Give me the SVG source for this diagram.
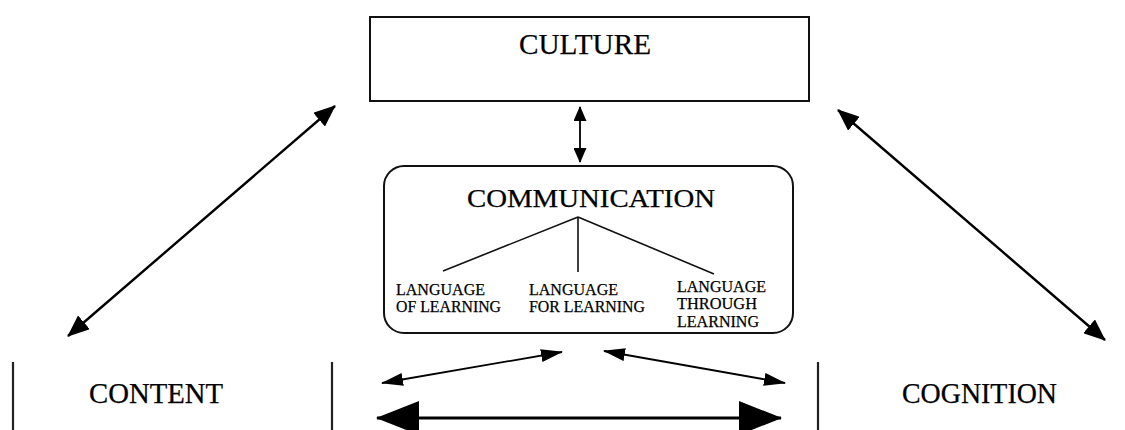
<svg xmlns="http://www.w3.org/2000/svg" width="1125" height="430" viewBox="0 0 1125 430">
  <style>
    .box { fill: #fff; stroke: #111; stroke-width: 2; }
    .side { fill: none; stroke: #222; stroke-width: 2.2; }
    .lbl { font-family: "Liberation Serif", "Times New Roman", serif; fill: #000; stroke: #000; stroke-width: 0.25; }
    .big { font-size: 29px; }
    .sub { font-size: 16.5px; }
    .tree { stroke: #111; stroke-width: 1.6; fill: none; }
    .link { stroke: #000; stroke-width: 2.4; fill: none; }
    .thin { stroke: #000; stroke-width: 1.8; fill: none; }
    .heavy { stroke: #000; stroke-width: 3.2; fill: none; }
  </style>
  <defs>
    <marker id="headM" markerUnits="userSpaceOnUse" viewBox="0 0 22 18" refX="21" refY="9" markerWidth="22" markerHeight="18" orient="auto-start-reverse">
      <path d="M0,0 L22,9 L0,18 Z" fill="#000"/>
    </marker>
    <marker id="headS" markerUnits="userSpaceOnUse" viewBox="0 0 22 13" refX="21" refY="6.5" markerWidth="22" markerHeight="13" orient="auto-start-reverse">
      <path d="M0,0 L22,6.5 L0,13 Z" fill="#000"/>
    </marker>
    <marker id="headV" markerUnits="userSpaceOnUse" viewBox="0 0 15 13" refX="14" refY="6.5" markerWidth="15" markerHeight="13" orient="auto-start-reverse">
      <path d="M0,0 L15,6.5 L0,13 Z" fill="#000"/>
    </marker>
    <marker id="headL" markerUnits="userSpaceOnUse" viewBox="0 0 43 34" refX="42" refY="17" markerWidth="43" markerHeight="34" orient="auto-start-reverse">
      <path d="M0,0 L43,17 L0,34 Z" fill="#000"/>
    </marker>
  </defs>

  <rect width="1125" height="430" fill="#fff"/>

  <g id="culture">
    <rect class="box" x="370" y="17" width="439" height="84"/>
    <text class="lbl" x="519" y="54" font-size="30" textLength="132" lengthAdjust="spacingAndGlyphs">CULTURE</text>
  </g>

  <g id="communication">
    <rect class="box" x="384" y="166" width="409" height="167" rx="20" ry="20"/>
    <text class="lbl" x="467" y="207" font-size="25" textLength="248" lengthAdjust="spacingAndGlyphs">COMMUNICATION</text>
    <path class="tree" d="M578,217 L443,271 M578,217 L578,272 M578,217 L714,274"/>
    <g id="language-of">
      <text class="lbl sub" x="396" y="295" textLength="89" lengthAdjust="spacingAndGlyphs">LANGUAGE</text>
      <text class="lbl sub" x="396" y="312" textLength="105" lengthAdjust="spacingAndGlyphs">OF LEARNING</text>
    </g>
    <g id="language-for">
      <text class="lbl sub" x="529" y="295" textLength="89" lengthAdjust="spacingAndGlyphs">LANGUAGE</text>
      <text class="lbl sub" x="529" y="312" textLength="116" lengthAdjust="spacingAndGlyphs">FOR LEARNING</text>
    </g>
    <g id="language-through">
      <text class="lbl sub" x="677" y="292" textLength="89" lengthAdjust="spacingAndGlyphs">LANGUAGE</text>
      <text class="lbl sub" x="677" y="309" textLength="80" lengthAdjust="spacingAndGlyphs">THROUGH</text>
      <text class="lbl sub" x="677" y="327" textLength="82" lengthAdjust="spacingAndGlyphs">LEARNING</text>
    </g>
  </g>

  <g id="content">
    <path class="side" d="M13,362 L13,432 M332,362 L332,432"/>
    <text class="lbl big" x="89" y="403" textLength="134" lengthAdjust="spacingAndGlyphs">CONTENT</text>
  </g>

  <g id="cognition">
    <path class="side" d="M818,362 L818,432"/>
    <text class="lbl big" x="902" y="403" textLength="155" lengthAdjust="spacingAndGlyphs">COGNITION</text>
  </g>

  <g id="connectors">
    <line class="thin" x1="580" y1="107" x2="580" y2="162" marker-start="url(#headV)" marker-end="url(#headV)"/>
    <line class="link" x1="68" y1="336" x2="335" y2="106" marker-start="url(#headM)" marker-end="url(#headM)"/>
    <line class="link" x1="838" y1="110" x2="1105" y2="340" marker-start="url(#headM)" marker-end="url(#headM)"/>
    <line class="thin" x1="382" y1="383" x2="562" y2="352" marker-start="url(#headS)" marker-end="url(#headS)"/>
    <line class="thin" x1="604" y1="351" x2="785" y2="383" marker-start="url(#headS)" marker-end="url(#headS)"/>
    <line class="heavy" x1="377" y1="418" x2="781" y2="418" marker-start="url(#headL)" marker-end="url(#headL)"/>
  </g>
</svg>
